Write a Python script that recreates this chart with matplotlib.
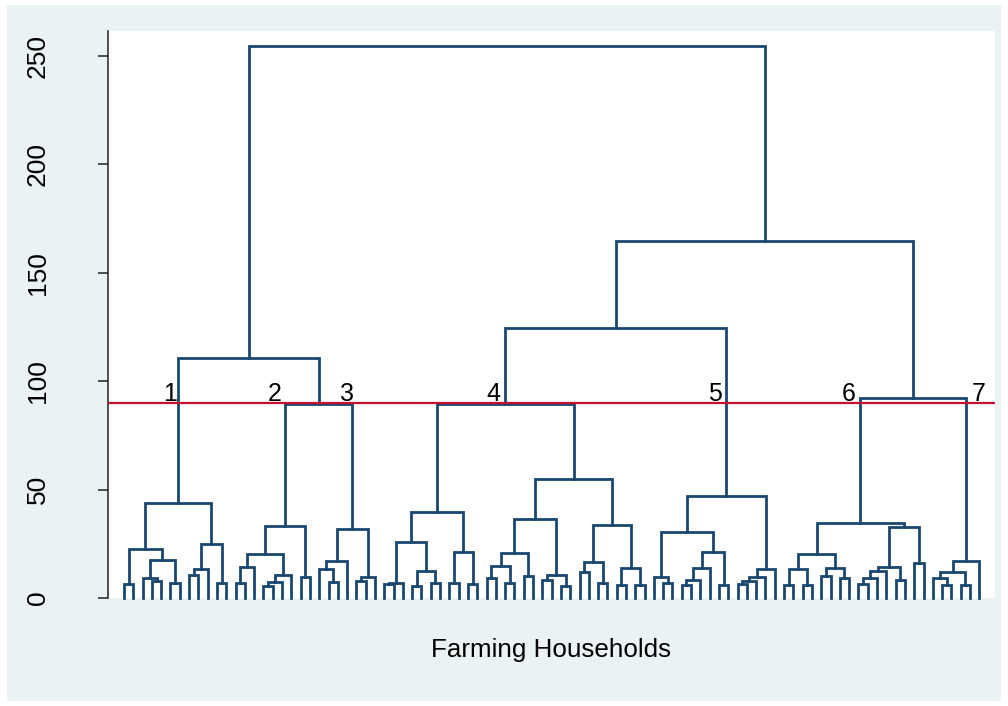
import matplotlib
matplotlib.use("Agg")
import matplotlib.pyplot as plt
from matplotlib.patches import Rectangle

plt.rcParams["font.family"] = ["Liberation Sans", "DejaVu Sans"]

# Each cluster is a nested (height, left, right) tuple; 0 is a single household.
cluster_1 = (43.8,
             (22.6, (6.3, 0, 0), (17.5, (9.1, 0, (7.8, 0, 0)), (7.1, 0, 0))),
             (24.9, (13.2, (10.5, 0, 0), 0), (7.1, 0, 0)))
cluster_2 = (33.3,
             (20.2, (14.4, (6.8, 0, 0), 0), (10.6, (7.2, (5.7, 0, 0), 0), 0)),
             (9.5, 0, 0))
cluster_3 = (31.8,
             (17.1, (13.2, 0, (7.2, 0, 0)), 0),
             (9.5, (7.8, 0, 0), 0))
cluster_4 = (89.5,
             (39.8,
              (26.0, (7.1, (6.3, 0, 0), 0), (12.6, (5.7, 0, 0), (6.8, 0, 0))),
              (21.4, (6.8, 0, 0), (6.3, 0, 0))),
             (54.9,
              (36.3,
               (20.8, (14.9, (9.4, 0, 0), (6.8, 0, 0)), (10.0, 0, 0)),
               (10.6, (8.3, 0, 0), (5.7, 0, 0))),
              (33.5,
               (16.6, (11.9, 0, 0), (6.8, 0, 0)),
               (13.7, (6.0, 0, 0), (6.0, 0, 0)))))
cluster_5 = (47.2,
             (30.6,
              (9.8, 0, (7.1, 0, 0)),
              (21.4, (13.7, (8.3, (6.0, 0, 0), 0), 0), (6.2, 0, 0))),
             (13.2, (9.8, (7.8, (6.5, 0, 0), 0), 0), 0))
cluster_6 = (34.5,
             (20.3,
              (13.2, (6.0, 0, 0), (6.0, 0, 0)),
              (13.7, (10.1, 0, 0), (9.2, 0, 0))),
             (32.7,
              (14.2, (12.5, (9.1, (6.5, 0, 0), 0), 0), (8.3, 0, 0)),
              (16.3, 0, 0)))
cluster_7 = (17.2, (11.8, (9.4, 0, (6.0, 0, 0)), (6.0, 0, 0)), 0)

clusters = [cluster_1, cluster_2, cluster_3, cluster_4,
            cluster_5, cluster_6, cluster_7]
cluster_names = ["1", "2", "3", "4", "5", "6", "7"]

# heights of the merges above the seven clusters
h_2_3 = 89.5
h_1_23 = 110.7
h_4_5 = 124.5
h_6_7 = 92.3
h_45_67 = 164.7
h_top = 254.6

cut_height = 90

tree = (h_top,
        (h_1_23, cluster_1, (h_2_3, cluster_2, cluster_3)),
        (h_45_67, (h_4_5, cluster_4, cluster_5), (h_6_7, cluster_6, cluster_7)))

LINE = "#1A476F"
BG = "#EAF2F3"

fig = plt.figure(figsize=(10.08, 7.06), dpi=100)
fig.patch.set_facecolor("white")
fig.patches.append(Rectangle((7 / 1008, 5 / 706), 994 / 1008, 696 / 706,
                             transform=fig.transFigure, facecolor=BG,
                             edgecolor="none", zorder=-10))

ax = fig.add_axes([108 / 1008, 1 - 598 / 706, 887 / 1008, 567 / 706])
ax.set_facecolor("white")

counter = [0]
roots = {}


def draw(node):
    if not isinstance(node, tuple):
        x = counter[0]
        counter[0] += 1
        return x, 0.0
    h, left, right = node
    xl, hl = draw(left)
    xr, hr = draw(right)
    ax.plot([xl, xl, xr, xr], [hl, h, h, hr], color=LINE, lw=2.0,
            solid_joinstyle="miter", clip_on=False, zorder=3)
    xm = (xl + xr) / 2
    for i, c in enumerate(clusters):
        if node is c:
            roots[i] = xm
    return xm, h


draw(tree)
n_leaves = counter[0]

ax.axhline(cut_height, color="#C8102E", lw=1.6, zorder=4)

label_dx = [-0.9, -1.1, -0.6, -1.3, -1.2, -1.3, 1.4]
for i, name in enumerate(cluster_names):
    ax.text(roots[i] + label_dx[i], cut_height + 0.8, name, ha="center",
            va="baseline", fontsize=18, color="black", zorder=5)

ax.set_xlim(-1.72, n_leaves - 1 + 1.69)
ax.set_ylim(0, 261.5)
ax.set_yticks([0, 50, 100, 150, 200, 250])
ax.set_xticks([])
for side in ["top", "right", "bottom"]:
    ax.spines[side].set_visible(False)
ax.spines["left"].set_color("#222222")
ax.spines["left"].set_linewidth(1.1)
ax.tick_params(axis="y", direction="out", length=7, width=1.1,
               color="#222222", labelsize=19, pad=35)
for lab in ax.get_yticklabels():
    lab.set_rotation(90)
    lab.set_va("center")

ax.set_xlabel("Farming Households", fontsize=18.7, labelpad=29)

fig.savefig("out.png", dpi=100, facecolor=fig.get_facecolor())
